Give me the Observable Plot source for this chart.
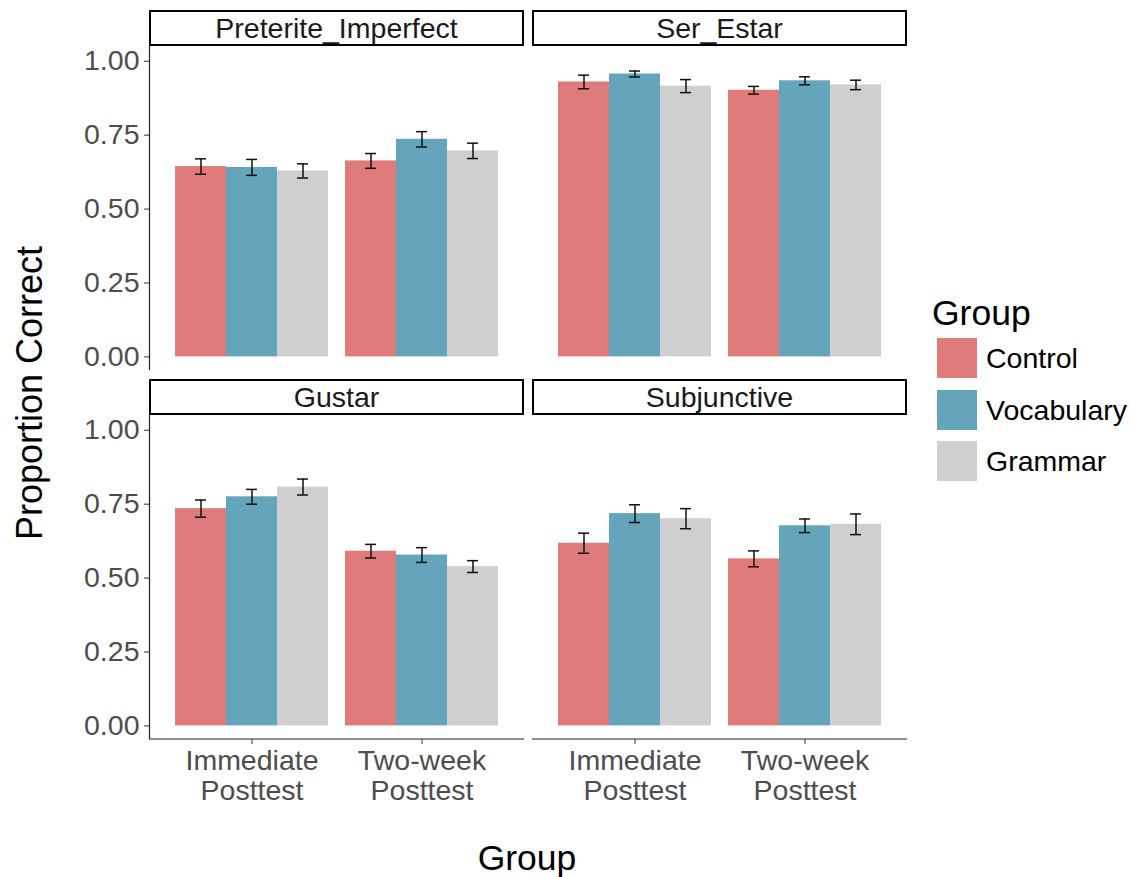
<!DOCTYPE html>
<html>
<head>
<meta charset="utf-8">
<script src="https://cdn.jsdelivr.net/npm/d3@7"></script>
<script src="https://cdn.jsdelivr.net/npm/@observablehq/plot@0.6"></script>
<style>
  html, body { margin: 0; padding: 0; background: #fff; }
  body { width: 1131px; height: 877px; position: relative; overflow: hidden;
         font-family: "Liberation Sans", Arial, Helvetica, sans-serif; }
  .strip { position: absolute; box-sizing: border-box; border: 2px solid #000; height: 36px; width: 375px;
           display: flex; align-items: center; justify-content: center; font-size: 28.5px; color: #1a1a1a; background: #fff; }
  svg { overflow: visible; }
  .key { position: absolute; width: 40px; height: 40px; left: 937px; }
  .klab { position: absolute; left: 986px; font-size: 28.5px; color: #000; line-height: 40px; height: 40px; }
</style>
</head>
<body>
<div id="root"></div>
<script>
// ---- data ----
const panels = ["Preterite_Imperfect", "Ser_Estar", "Gustar", "Subjunctive"];
const times = ["Immediate Posttest", "Two-week Posttest"];
const groups = ["Control", "Vocabulary", "Grammar"];
const groupColors = ["#E07B7B", "#64A5BB", "#CFCFCF"];
const yTicks = [0, 0.25, 0.5, 0.75, 1];

// means [time][group]
const meanPreterite   = [[0.644, 0.641, 0.629], [0.663, 0.736, 0.697]];
const sePreterite     = [[0.026, 0.027, 0.024], [0.025, 0.026, 0.026]];
const meanSerEstar    = [[0.930, 0.957, 0.916], [0.902, 0.934, 0.920]];
const seSerEstar      = [[0.023, 0.010, 0.022], [0.013, 0.0135, 0.016]];
const meanGustar      = [[0.735, 0.775, 0.808], [0.591, 0.578, 0.539]];
const seGustar        = [[0.029, 0.025, 0.027], [0.023, 0.025, 0.020]];
const meanSubjunctive = [[0.618, 0.718, 0.701], [0.565, 0.677, 0.682]];
const seSubjunctive   = [[0.034, 0.030, 0.034], [0.027, 0.023, 0.035]];

const panelMeans = [meanPreterite, meanSerEstar, meanGustar, meanSubjunctive];
const panelSes = [sePreterite, seSerEstar, seGustar, seSubjunctive];

const rows = [];
panels.forEach((p, pi) => times.forEach((t, ti) => groups.forEach((g, gi) => {
  rows.push({panel: p, time: t, group: g, mean: panelMeans[pi][ti][gi], se: panelSes[pi][ti][gi]});
})));

// ---- layout ----
const FONT = '"Liberation Sans", Arial, Helvetica, sans-serif';
const yDomain = [-0.046, 1.05];
const PW = 375, PH = 324;
const root = document.getElementById("root");

function place(el, left, top) {
  el.style.position = "absolute";
  el.style.left = left + "px";
  el.style.top = top + "px";
  root.appendChild(el);
  return el;
}

function panelChart(name, showX) {
  const data = rows.filter(d => d.panel === name);
  const marks = [
    Plot.barY(data, {fx: "time", x: "group", y1: 0, y2: "mean", fill: "group"}),
    Plot.ruleX(data, {fx: "time", x: "group", y1: d => d.mean - d.se, y2: d => d.mean + d.se, stroke: "#111", strokeWidth: 1.5}),
    Plot.tickY(data, {fx: "time", x: "group", y: d => d.mean - d.se, insetLeft: 20, insetRight: 20, stroke: "#111", strokeWidth: 1.5}),
    Plot.tickY(data, {fx: "time", x: "group", y: d => d.mean + d.se, insetLeft: 20, insetRight: 20, stroke: "#111", strokeWidth: 1.5})
  ];
  if (showX) {
    marks.push(Plot.axisFx({anchor: "bottom", tickSize: 5, tickPadding: 4, lineHeight: 1.05,
      label: null, stroke: "#333", fill: "#4d4d4d", tickFormat: t => t.replace(" ", "\n")}));
  }
  const chart = Plot.plot({
    width: PW, height: PH + (showX ? 90 : 0),
    marginLeft: 0, marginRight: 0, marginTop: 0, marginBottom: showX ? 90 : 0,
    style: {fontFamily: FONT, fontSize: "28.5px", color: "#4d4d4d", background: "transparent", overflow: "visible"},
    fx: {domain: times, paddingInner: 0.1026, paddingOuter: 0.151, label: null, axis: null},
    x: {domain: groups, padding: 0, axis: null},
    y: {domain: yDomain, axis: null},
    color: {domain: groups, range: groupColors},
    marks
  });
  if (showX) {
    const y0 = chart.scale("y").apply(yDomain[0]);
    d3.select(chart).append("line")
      .attr("x1", 0).attr("x2", PW).attr("y1", y0).attr("y2", y0)
      .attr("stroke", "#222").attr("stroke-width", 1.2);
  }
  return chart;
}

function yAxisChart() {
  return Plot.plot({
    width: 150, height: PH, marginLeft: 149, marginRight: 0, marginTop: 0, marginBottom: 0,
    style: {fontFamily: FONT, fontSize: "28.5px", color: "#4d4d4d", background: "transparent", overflow: "visible"},
    x: {domain: [0, 1], axis: null},
    y: {domain: yDomain, label: null},
    marks: [
      Plot.axisY(yTicks, {tickFormat: d3.format(".2f"), tickSize: 5, tickPadding: 5, label: null, stroke: "#333"}),
      Plot.ruleX([0], {stroke: "#222", strokeWidth: 1.2})
    ]
  });
}

// strips
const stripPos = [[149, 10], [532, 10], [149, 379], [532, 379]];
panels.forEach((p, i) => {
  const s = document.createElement("div");
  s.className = "strip";
  s.textContent = p;
  place(s, stripPos[i][0], stripPos[i][1]);
});

// panels
place(panelChart("Preterite_Imperfect", false), 149, 46);
place(panelChart("Ser_Estar", false), 532, 46);
place(panelChart("Gustar", true), 149, 415);
place(panelChart("Subjunctive", true), 532, 415);

// y axes
place(yAxisChart(), 0, 46);
place(yAxisChart(), 0, 415);

// axis titles
const yt = document.createElement("div");
yt.textContent = "Proportion Correct";
yt.style.cssText = "font-size:36px;color:#000;white-space:nowrap;transform:translate(-50%,-50%) rotate(-90deg);";
place(yt, 30, 393);

const xt = document.createElement("div");
xt.textContent = "Group";
xt.style.cssText = "font-size:35.5px;color:#000;white-space:nowrap;transform:translateX(-50%);";
place(xt, 527, 838);

// legend
const lt = document.createElement("div");
lt.textContent = "Group";
lt.style.cssText = "font-size:35.5px;color:#000;";
place(lt, 932, 293);
const keyTops = [338, 389.5, 441];
groups.forEach((g, i) => {
  const k = document.createElement("div");
  k.className = "key";
  k.style.background = groupColors[i];
  k.style.top = keyTops[i] + "px";
  root.appendChild(k);
  const l = document.createElement("div");
  l.className = "klab";
  l.textContent = g;
  l.style.top = keyTops[i] + "px";
  root.appendChild(l);
});
</script>
</body>
</html>
